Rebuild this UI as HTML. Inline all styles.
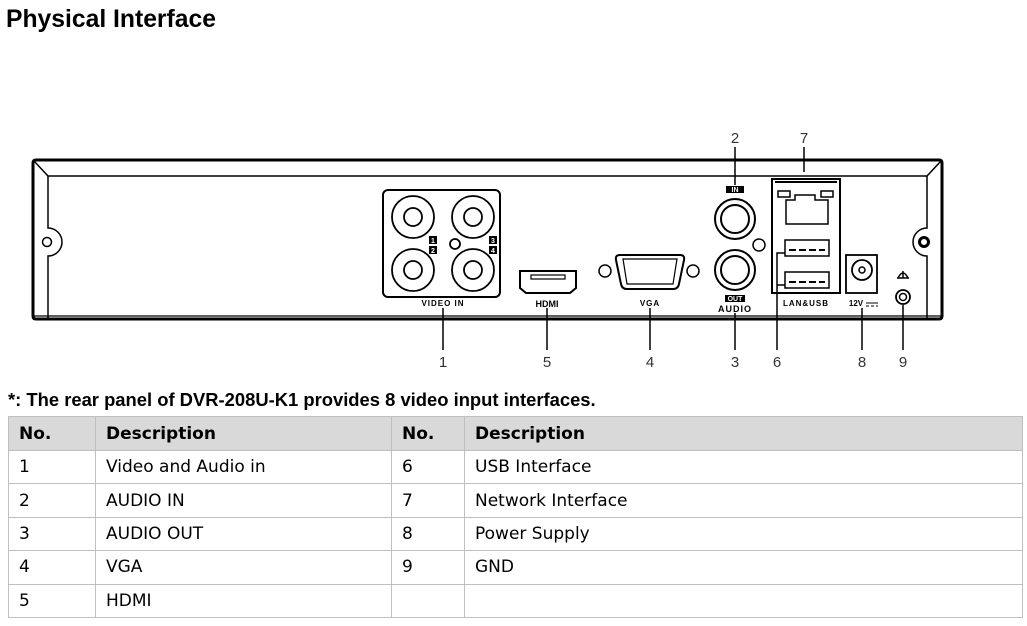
<!DOCTYPE html>
<html><head><meta charset="utf-8"><style>
body{margin:0;background:#fff;width:1027px;height:626px;overflow:hidden;font-family:"Liberation Sans",sans-serif}
svg{position:absolute;left:0;top:0}
table{position:absolute;left:8px;top:416px;border-collapse:collapse;font-size:17px;font-family:"DejaVu Sans","Liberation Sans",sans-serif}
td{border:1px solid #bfbfbf;height:33.4px;padding:0 0 0 10px;box-sizing:border-box}
tr.h td{background:#d9d9d9;font-weight:bold;height:34px}
</style></head><body>
<svg width="1027" height="626" font-family="Liberation Sans, sans-serif">
<text x="6" y="27" font-size="24.7" font-weight="bold">Physical Interface</text>
<g fill="none" stroke="#000">
<path d="M36 160 H939 Q942 160 942 163 V316 Q942 319 939 319 H36 Q33 319 33 316 V163 Q33 160 36 160Z" stroke-width="3"/>
<path d="M34 161 L48 176 H927 L941 161" stroke-width="1.5"/>
<path d="M48 176 V228 A14 14 0 0 1 48 256 V318" stroke-width="1.5"/>
<path d="M927 176 V228 A14 14 0 0 0 927 256 V318" stroke-width="1.5"/>
<circle cx="47" cy="242" r="4.5" stroke-width="1.5"/>
<circle cx="924" cy="242" r="4.5" stroke-width="3"/>
<line x1="34" y1="316" x2="941" y2="316" stroke-width="1.2"/>
<rect x="383" y="190" width="117" height="107" rx="5" stroke-width="2"/>
<g stroke-width="1.8">
<circle cx="413" cy="217" r="21"/><circle cx="413" cy="217" r="9"/>
<circle cx="473" cy="217" r="21"/><circle cx="473" cy="217" r="9"/>
<circle cx="413" cy="270" r="21"/><circle cx="413" cy="270" r="9"/>
<circle cx="473" cy="270" r="21"/><circle cx="473" cy="270" r="9"/>
<circle cx="455" cy="244" r="5"/>
</g>
<path d="M520 271 H576 V288 L570 293 H526 L520 288Z" stroke-width="2"/>
<rect x="531" y="275" width="34" height="4" stroke-width="1.2"/>
<circle cx="605" cy="271" r="6" stroke-width="1.5"/>
<circle cx="693" cy="271" r="6" stroke-width="1.5"/>
<path d="M620 255 H680 Q685 255 684 260 L679 284 Q678 289 673 289 H627 Q622 289 621 284 L616 260 Q615 255 620 255Z" stroke-width="2"/>
<path d="M623 259 H677 L673 284 H627Z" stroke-width="1.2"/>
<circle cx="735" cy="219" r="20" stroke-width="2"/><circle cx="735" cy="219" r="14" stroke-width="2"/>
<circle cx="735" cy="270" r="20" stroke-width="2"/><circle cx="735" cy="270" r="14" stroke-width="2"/>
<circle cx="759" cy="245" r="6" stroke-width="1.5"/>
<rect x="772" y="179" width="68" height="114" stroke-width="2"/>
<line x1="775" y1="182" x2="837" y2="182" stroke-width="2"/>
<path d="M786 224 V200 H795 V195 H815 V200 H828 V224Z" stroke-width="1.5"/>
<rect x="778" y="191" width="12" height="6" stroke-width="1.5"/>
<rect x="821" y="191" width="12" height="6" stroke-width="1.5"/>
<rect x="785" y="240" width="44" height="16" stroke-width="1.5"/>
<rect x="785" y="272" width="44" height="16" stroke-width="1.5"/>
<path d="M789 250 H825 M789 282 H825" stroke-width="2" stroke-dasharray="7 3"/>
<rect x="846" y="255" width="31" height="38" stroke-width="1.8"/>
<circle cx="862" cy="270" r="10" stroke-width="1.8"/><circle cx="862" cy="270" r="3" stroke-width="1.5"/>
<circle cx="903" cy="297" r="7" stroke-width="1.8"/><circle cx="903" cy="297" r="3.5" stroke-width="1.5"/>
<path d="M897 278 H909 M903 271 V278 M898 278 Q903 268 908 278" stroke-width="1.5"/>
<g stroke-width="1.5">
<line x1="443" y1="308" x2="443" y2="350"/>
<line x1="547" y1="308" x2="547" y2="350"/>
<line x1="650" y1="308" x2="650" y2="350"/>
<line x1="735" y1="147" x2="735" y2="185"/>
<line x1="735" y1="313" x2="735" y2="350"/>
<line x1="804" y1="147" x2="804" y2="172"/>
<path d="M785 253 H777 V350 M777 285 H785"/>
<line x1="862" y1="308" x2="862" y2="350"/>
<line x1="903" y1="305" x2="903" y2="350"/>
</g>
</g>
<g font-size="7" font-weight="bold" text-anchor="middle">
<rect x="429" y="236" width="8" height="8"/><rect x="429" y="246" width="8" height="8"/>
<rect x="489" y="236" width="8" height="8"/><rect x="489" y="246" width="8" height="8"/>
<text x="433" y="243" fill="#fff">1</text><text x="433" y="253" fill="#fff">2</text>
<text x="493" y="243" fill="#fff">3</text><text x="493" y="253" fill="#fff">4</text>
<text x="443" y="306" font-size="8" letter-spacing="1">VIDEO IN</text>
<text x="547" y="307" font-size="9" font-weight="900">HDMI</text>
<text x="650" y="306" font-size="8" letter-spacing="1">VGA</text>
<rect x="726" y="186" width="18" height="7"/><text x="735" y="192" fill="#fff">IN</text>
<rect x="725" y="295" width="20" height="7"/><text x="735" y="301" fill="#fff">OUT</text>
<text x="735" y="312" font-size="9" letter-spacing="1">AUDIO</text>
<text x="806" y="306" font-size="8" letter-spacing="1">LAN&amp;USB</text>
<text x="856" y="306" font-size="8">12V</text>
</g>
<path d="M866 303 H878 M866 306 H869 M871 306 H874 M876 306 H878" stroke="#000" stroke-width="1"/>
<g font-size="15" text-anchor="middle" fill="#333">
<text x="443" y="367">1</text><text x="547" y="367">5</text><text x="650" y="367">4</text>
<text x="735" y="367">3</text><text x="777" y="367">6</text><text x="862" y="367">8</text><text x="903" y="367">9</text>
<text x="735" y="143">2</text><text x="804" y="143">7</text>
</g>
<text x="8" y="406" font-size="18.4" font-weight="bold">*: The rear panel of DVR-208U-K1 provides 8 video input interfaces.</text>
</svg>
<table>
<colgroup><col style="width:87px"><col style="width:296px"><col style="width:73px"><col style="width:558px"></colgroup>
<tr class="h"><td>No.</td><td>Description</td><td>No.</td><td>Description</td></tr>
<tr><td>1</td><td>Video and Audio in</td><td>6</td><td>USB Interface</td></tr>
<tr><td>2</td><td>AUDIO IN</td><td>7</td><td>Network Interface</td></tr>
<tr><td>3</td><td>AUDIO OUT</td><td>8</td><td>Power Supply</td></tr>
<tr><td>4</td><td>VGA</td><td>9</td><td>GND</td></tr>
<tr><td>5</td><td>HDMI</td><td></td><td></td></tr>
</table>
</body></html>
